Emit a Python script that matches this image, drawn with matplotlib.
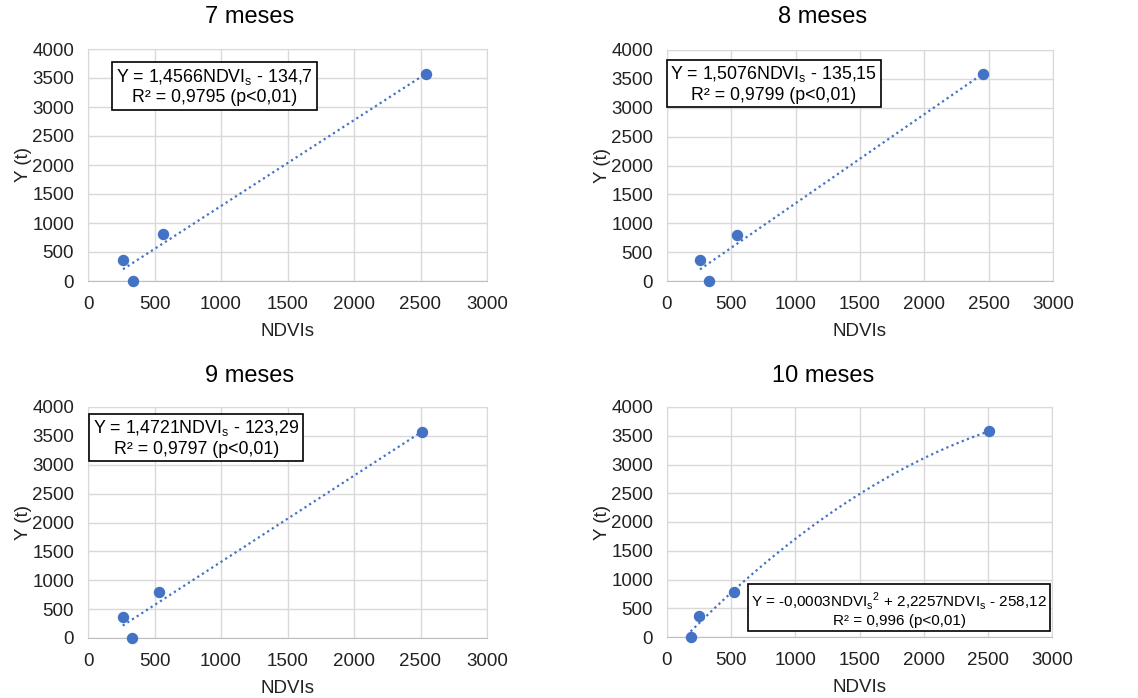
import numpy as np
import matplotlib.pyplot as plt

plt.rcParams['font.family'] = ['Liberation Sans', 'DejaVu Sans']

titles = ['7 meses', '8 meses', '9 meses', '10 meses']
ndvi_7 = [263, 338, 565, 2545]
y_7 = [370, 0, 805, 3570]
ndvi_8 = [256, 328, 546, 2457]
y_8 = [370, 0, 800, 3582]
ndvi_9 = [261, 328, 536, 2513]
y_9 = [370, 0, 795, 3565]
ndvi_10 = [184, 252, 524, 2508]
y_10 = [0, 370, 790, 3578]
fit_degree = [1, 1, 1, 2]
equations = [
    'Y = 1,4566NDVI$_\\mathregular{s}$ - 134,7\nR² = 0,9795 (p<0,01)',
    'Y = 1,5076NDVI$_\\mathregular{s}$ - 135,15\nR² = 0,9799 (p<0,01)',
    'Y = 1,4721NDVI$_\\mathregular{s}$ - 123,29\nR² = 0,9797 (p<0,01)',
    'Y = -0,0003NDVI$_\\mathregular{s}$$^\\mathregular{2}$ + 2,2257NDVI$_\\mathregular{s}$ - 258,12\nR² = 0,996 (p<0,01)',
]
xs = [ndvi_7, ndvi_8, ndvi_9, ndvi_10]
ys = [y_7, y_8, y_9, y_10]

W, H = 1138, 698
fig = plt.figure(figsize=(W / 100, H / 100), dpi=100)

# axes boxes in pixels: left, top, right, bottom
boxes = [(88, 49, 487, 281), (667, 50, 1053, 281),
         (88, 407, 487, 638), (667, 407, 1052, 637)]
eq_pos = [(0.317, 0.838), (0.277, 0.853), (0.271, 0.866), (0.603, 0.122)]
eq_size = [12.8, 12.8, 12.8, 11]
title_pos = [(250, 17), (823, 17), (250, 376), (823, 376)]
blue = '#4472C4'

for i in range(4):
    l, t, r, b = boxes[i]
    ax = fig.add_axes([l / W, 1 - b / H, (r - l) / W, (b - t) / H])
    x = np.array(xs[i], dtype=float)
    y = np.array(ys[i], dtype=float)
    coef = np.polyfit(x, y, fit_degree[i])
    xx = np.linspace(x.min(), x.max(), 200)
    ax.plot(xx, np.polyval(coef, xx), ls=(0, (1, 1.5)), color=blue, lw=1.6, zorder=2)
    ax.scatter(x, y, s=52, color=blue, zorder=3, clip_on=False)
    ax.set_xlim(0, 3000)
    ax.set_ylim(0, 4000)
    ax.set_xticks(range(0, 3001, 500))
    ax.set_yticks(range(0, 4001, 500))
    ax.grid(True, color='#d9d9d9', lw=1)
    ax.set_axisbelow(True)
    for s in ['top', 'right', 'left']:
        ax.spines[s].set_color('#d9d9d9')
    ax.spines['bottom'].set_color('#bfbfbf')
    ax.tick_params(length=0, labelsize=13.5, colors='#222222')
    ax.tick_params(axis='x', pad=11)
    ax.tick_params(axis='y', pad=10)
    ax.set_xlabel('NDVIs', fontsize=13.5, color='#222222', labelpad=7)
    ax.set_ylabel('Y (t)', fontsize=13.5, color='#222222')
    ax.yaxis.set_label_coords(-56 / (r - l), 0.5)
    ax.text(eq_pos[i][0], eq_pos[i][1], equations[i], transform=ax.transAxes,
            ha='center', va='center', fontsize=eq_size[i],
            bbox=dict(boxstyle='square,pad=0.2', fc='white', ec='black', lw=1.2), zorder=4)
    fig.text(title_pos[i][0] / W, 1 - title_pos[i][1] / H, titles[i],
             ha='center', va='center', fontsize=17)

fig.savefig('out.png', dpi=100)
